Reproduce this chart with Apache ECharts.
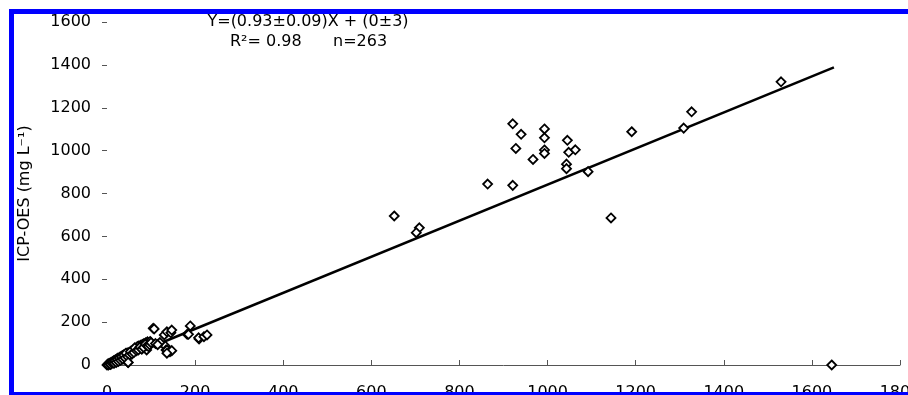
<!DOCTYPE html>
<html>
<head>
<meta charset="utf-8">
<script src="https://cdn.jsdelivr.net/npm/echarts@6/dist/echarts.min.js"></script>
<style>
html,body{margin:0;padding:0;background:#fff;}
#chart{width:908px;height:395px;}
</style>
</head>
<body>
<div id="chart"></div>
<script>
// Reference method values (x) and ICP-OES values (y)
var obsX = [0,2,4,5,7,9,10,12,14,15,17,19,20,22,24,25,27,29,30,32,34,35,37,39,40,42,44,46,48,50,52,54,56,58,60,62,64,66,68,70,72,74,76,78,80,82,84,86,88,90,92,95,98,90,70,
  1,3,6,8,11,13,16,18,21,23,26,28,31,33,36,38,41,43,47,51,53,57,61,63,67,71,75,79,83,87,91,94,97,100,
  105,107,130,136,145,147,182,185,189,209,208,220,227,132,134,136,143,147,136,48,120,110,115,
  652,709,702,864,921,921,940,993,993,928,1045,993,993,1048,1063,967,1043,1043,1092,1191,1144,1309,1327,1530,1645];
var obsY = [0,4,2,8,5,12,6,15,10,20,14,24,18,28,22,32,26,36,30,40,34,44,30,48,40,52,46,56,12,58,44,64,60,68,72,66,78,74,84,80,88,76,92,86,96,90,100,94,104,98,108,102,110,70,86,
  -2,0,6,3,9,14,8,19,12,26,17,33,22,38,27,46,33,55,38,47,62,52,58,80,66,70,84,74,82,98,90,86,94,104,
  171,168,140,155,150,163,143,143,182,121,127,132,140,89,70,70,62,67,55,12,105,100,95,
  695,640,617,844,838,1125,1076,1101,1060,1010,1048,1003,987,992,1004,959,937,916,902,1088,686,1105,1181,1321,0];
// Regression line end points
var fitX = [0, 1650];
var fitY = [0, 1388];
// Axis ranges / ticks
var xTicks = [0,200,400,600,800,1000,1200,1400,1600,1800];
var yTicks = [0,200,400,600,800,1000,1200,1400,1600];
var yTitle = 'ICP-OES (mg L\u207B\u00B9)';
var eqLine1 = 'Y=(0.93\u00B10.09)X + (0\u00B13)';
var eqR2 = 'R\u00B2= 0.98';
var eqN = 'n=263';

var pts = obsX.map(function(x,i){return [x, obsY[i]];});
var fit = fitX.map(function(x,i){return [x, fitY[i]];});
var FONT = 'DejaVu Sans';
function plain(v){ return String(v); }

var chart = echarts.init(document.getElementById('chart'), null, {renderer:'canvas'});
chart.setOption({
  animation:false,
  backgroundColor:'#fff',
  grid:{left:107, right:8, top:22, bottom:30, containLabel:false, outerBoundsMode:'none'},
  xAxis:{
    type:'value', min:xTicks[0], max:xTicks[xTicks.length-1], interval:200,
    axisLine:{show:true, onZero:false, lineStyle:{color:'#555', width:1}},
    axisTick:{show:true, inside:true, length:5, lineStyle:{color:'#555'}},
    splitLine:{show:false},
    axisLabel:{margin:20, color:'#000', fontFamily:FONT, fontSize:16, formatter:plain, hideOverlap:false}
  },
  yAxis:{
    type:'value', min:yTicks[0], max:yTicks[yTicks.length-1], interval:200,
    name: yTitle, nameLocation:'middle', nameGap:74, nameRotate:90,
    nameTextStyle:{color:'#000', fontFamily:FONT, fontSize:16},
    axisLine:{show:false},
    axisTick:{show:true, length:5, lineStyle:{color:'#555'}},
    splitLine:{show:false},
    axisLabel:{margin:16, color:'#000', fontFamily:FONT, fontSize:16, formatter:plain}
  },
  series:[
    {type:'line', data:fit, symbol:'none', z:3,
     lineStyle:{color:'#000', width:2.5}},
    {type:'scatter', data:pts, symbol:'diamond', symbolSize:9, z:4,
     itemStyle:{color:'#fff', borderColor:'#000', borderWidth:1.8, opacity:1}}
  ],
  graphic:[
    {type:'text', x:308, y:22, style:{text:eqLine1, fill:'#000', font:'16px "DejaVu Sans"', textAlign:'center', textVerticalAlign:'middle'}, z:10},
    {type:'text', x:230, y:42, style:{text:eqR2, fill:'#000', font:'16px "DejaVu Sans"', textAlign:'left', textVerticalAlign:'middle'}, z:10},
    {type:'text', x:333, y:42, style:{text:eqN, fill:'#000', font:'16px "DejaVu Sans"', textAlign:'left', textVerticalAlign:'middle'}, z:10},
    {type:'rect', shape:{x:9, y:9, width:899, height:5}, style:{fill:'#0000ff'}, z:20},
    {type:'rect', shape:{x:9, y:9, width:5, height:386}, style:{fill:'#0000ff'}, z:20},
    {type:'rect', shape:{x:9, y:392, width:899, height:3}, style:{fill:'#0000ff'}, z:20}
  ]
});
</script>
</body>
</html>
